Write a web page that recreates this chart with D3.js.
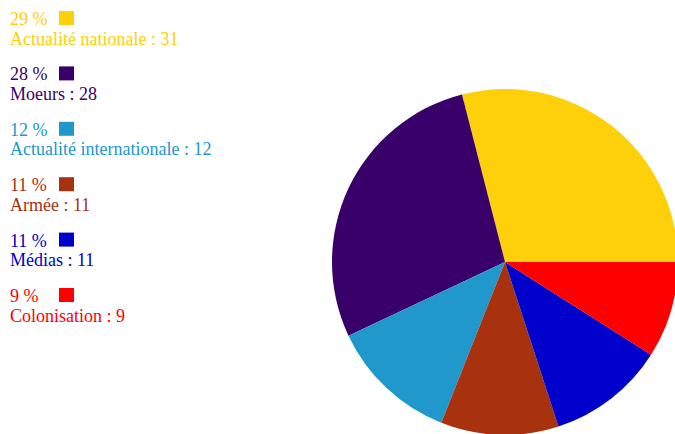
<!DOCTYPE html>
<html><head><meta charset="utf-8">
<script src="https://cdn.jsdelivr.net/npm/d3@7"></script>
<style>html,body{margin:0;padding:0;background:#fff;overflow:hidden}</style>
</head><body>
<svg id="chart" width="675" height="434"></svg>
<script>
const categories = ["Actualité nationale", "Moeurs", "Actualité internationale", "Armée", "Médias", "Colonisation"];
const counts = [31, 28, 12, 11, 11, 9];
const percents = [29, 28, 12, 11, 11, 9];
const colors = ["#FDD00A", "#380068", "#2098CC", "#A8320E", "#0000CC", "#FF0000"];

const svg = d3.select("#chart");
const data = categories.map((c, i) => ({name: c, count: counts[i], pct: percents[i], color: colors[i]}));

// Pie: starts at 3 o'clock, goes counter-clockwise
const pie = d3.pie().sort(null).value(d => d.pct)
  .startAngle(Math.PI / 2).endAngle(Math.PI / 2 - 2 * Math.PI);
const arc = d3.arc().innerRadius(0).outerRadius(173);
const g = svg.append("g").attr("transform", "translate(505,262)");
g.selectAll("path").data(pie(data)).join("path")
  .attr("d", arc).attr("fill", d => d.data.color);

// Legend
const y = d3.scalePoint().domain(categories).range([25, 302]);
const leg = svg.append("g").style("font-family", "'Liberation Serif', 'DejaVu Serif', serif").style("font-size", "18px");
const items = leg.selectAll("g").data(data).join("g")
  .attr("transform", d => `translate(0,${y(d.name)})`);
items.append("text").attr("x", 10).attr("y", 0).attr("fill", d => d.color).text(d => d.pct + " %");
items.append("rect").attr("x", 59).attr("y", -14).attr("width", 15).attr("height", 14).attr("fill", d => d.color);
items.append("text").attr("x", 10).attr("y", 19.5).attr("fill", d => d.color).text(d => d.name + " : " + d.count);
</script>
</body></html>
